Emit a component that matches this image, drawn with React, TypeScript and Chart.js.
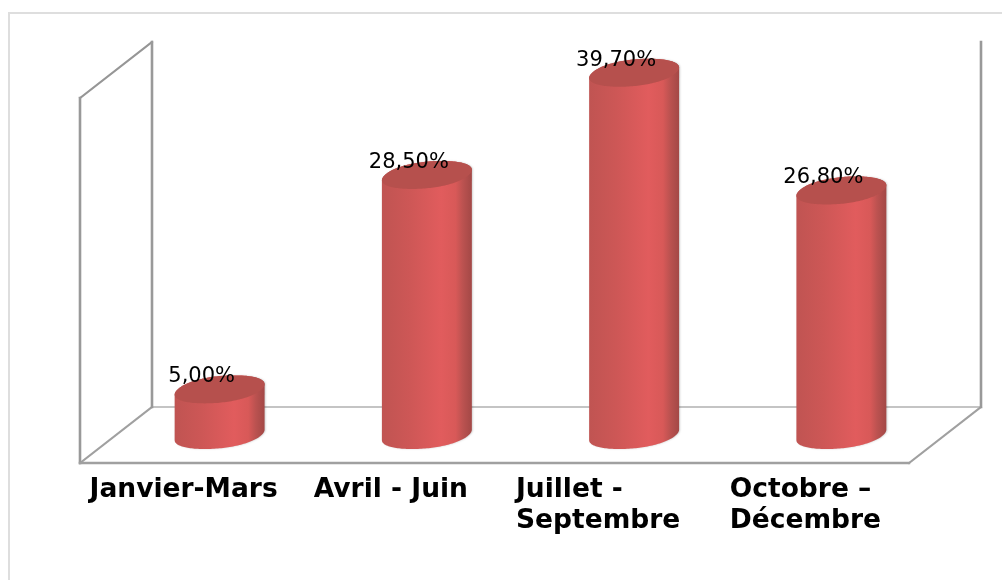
import React, { useEffect, useRef } from "react";
import { Chart, registerables } from "chart.js";

Chart.register(...registerables);

const categories: string[][] = [["Janvier-Mars"], ["Avril - Juin"], ["Juillet -", "Septembre"], ["Octobre –", "Décembre"]];
const values: number[] = [5.0, 28.5, 39.7, 26.8];
const valueLabels: string[] = ["5,00%", "28,50%", "39,70%", "26,80%"];

const DEPTH_X = 36;
const DEPTH_Y = 28;
const SHEAR = 15;
const ELLIPSE_B = 14;
const ROUNDNESS = 0.94;

function spow(v: number) {
  return Math.sign(v) * Math.pow(Math.abs(v), ROUNDNESS);
}

function rawPoint(R: number, t: number): [number, number] {
  const r = Math.sqrt(R * R - SHEAR * SHEAR);
  const c = spow(Math.cos(t));
  const s = spow(Math.sin(t));
  return [r * c + SHEAR * s, -ELLIPSE_B * s];
}

function findExtreme(R: number) {
  let best = 0;
  let bestX = -Infinity;
  for (let k = 0; k < 720; k++) {
    const t = (Math.PI * 2 * k) / 720;
    const x = rawPoint(R, t)[0];
    if (x > bestX) {
      bestX = x;
      best = t;
    }
  }
  return { t0: best, scale: R / bestX };
}

const scene3d = {
  id: "scene3d",
  beforeDatasetsDraw(chart: any) {
    const { ctx, chartArea: a } = chart;
    const line = (pts: number[][], color: string, w: number) => {
      ctx.beginPath();
      pts.forEach((p, i) => (i ? ctx.lineTo(p[0], p[1]) : ctx.moveTo(p[0], p[1])));
      ctx.strokeStyle = color;
      ctx.lineWidth = w;
      ctx.lineCap = "square";
      ctx.stroke();
    };
    ctx.save();
    line([[9, 582], [9, 13], [1004, 13]], "#dedede", 2);
    const fl = a.left - DEPTH_X, bl = a.left + DEPTH_X;
    const fr = a.right - DEPTH_X, br = a.right + DEPTH_X;
    const fb = a.bottom + DEPTH_Y, bb = a.bottom - DEPTH_Y;
    const ft = a.top + DEPTH_Y, bt = a.top - DEPTH_Y;
    line([[bl, bb], [br, bb]], "#c4c4c4", 2);
    line([[fl, fb], [bl, bb]], "#a0a0a0", 2);
    line([[fr, fb], [br, bb]], "#a0a0a0", 2);
    line([[fl, ft], [bl, bt]], "#969696", 2);
    line([[bl, bt], [bl, bb]], "#999999", 2.6);
    line([[br, bt], [br, bb]], "#999999", 2.6);
    line([[fl, ft], [fl, fb]], "#999999", 2.6);
    line([[fl, fb], [fr, fb]], "#a0a0a0", 2.4);
    ctx.restore();
  },
  afterDatasetsDraw(chart: any) {
    const { ctx } = chart;
    const meta = chart.getDatasetMeta(0);
    ctx.save();
    meta.data.forEach((bar: any, i: number) => {
      const cx = bar.x, R = bar.width / 2, top = bar.y, base = bar.base;
      const { t0, scale } = findExtreme(R);
      const pt = (cy: number, t: number): [number, number] => {
        const q = rawPoint(R, t);
        return [cx + q[0] * scale, cy + q[1]];
      };
      // body
      ctx.save();
      ctx.beginPath();
      let p = pt(top, t0);
      ctx.moveTo(p[0], p[1]);
      const N = 80;
      for (let k = 0; k <= N; k++) {
        p = pt(base, t0 - (Math.PI * k) / N);
        ctx.lineTo(p[0], p[1]);
      }
      p = pt(top, t0 - Math.PI);
      ctx.lineTo(p[0], p[1]);
      for (let k = 0; k <= N; k++) {
        p = pt(top, t0 - Math.PI - (Math.PI * k) / N);
        ctx.lineTo(p[0], p[1]);
      }
      ctx.closePath();
      const g = ctx.createLinearGradient(cx - R, 0, cx + R, 0);
      g.addColorStop(0, "#c05452");
      g.addColorStop(0.3, "#cd5756");
      g.addColorStop(0.66, "#e15c5d");
      g.addColorStop(0.82, "#d85958");
      g.addColorStop(0.9, "#bb5250");
      g.addColorStop(1, "#a34846");
      ctx.shadowColor = "rgba(0,0,0,0.18)";
      ctx.shadowBlur = 2;
      ctx.shadowOffsetX = 1;
      ctx.shadowOffsetY = 0;
      ctx.fillStyle = g;
      ctx.fill();
      ctx.restore();
      // top cap
      ctx.beginPath();
      for (let k = 0; k <= 160; k++) {
        const q = pt(top, (2 * Math.PI * k) / 160);
        if (k) ctx.lineTo(q[0], q[1]);
        else ctx.moveTo(q[0], q[1]);
      }
      ctx.closePath();
      ctx.fillStyle = "#b6504d";
      ctx.fill();
      // value label
      ctx.fillStyle = "#000";
      ctx.font = "21px 'DejaVu Sans'";
      ctx.textAlign = "center";
      ctx.textBaseline = "alphabetic";
      ctx.fillText(valueLabels[i], cx - 18, top - 7);
    });
    // category labels (left-aligned block centred under the front plane)
    const xs = chart.scales.x;
    ctx.font = "bold 26.5px 'DejaVu Sans'";
    ctx.textAlign = "left";
    ctx.fillStyle = "#000";
    categories.forEach((lines, i) => {
      const maxW = Math.max(...lines.map((l) => ctx.measureText(l).width));
      const left = xs.getPixelForValue(i) - DEPTH_X - maxW / 2;
      lines.forEach((l, j) => ctx.fillText(l, left, chart.chartArea.bottom + 62 + j * 31));
    });
    ctx.restore();
  },
};

export default function App() {
  const ref = useRef<HTMLCanvasElement>(null);
  useEffect(() => {
    const chart = new Chart(ref.current!, {
      type: "bar",
      data: {
        labels: categories,
        datasets: [
          {
            data: values,
            backgroundColor: "rgba(0,0,0,0)",
            barPercentage: 1,
            categoryPercentage: 0.434,
          },
        ],
      },
      options: {
        responsive: false,
        animation: false,
        layout: { padding: { left: 116, right: 57, top: 70, bottom: 145 } },
        plugins: { legend: { display: false }, tooltip: { enabled: false } },
        scales: {
          x: { display: false },
          y: { display: false, min: 0, max: 40 },
        },
      },
      plugins: [scene3d],
    });
    return () => chart.destroy();
  }, []);
  return (
    <canvas
      ref={ref}
      width={1002}
      height={580}
      style={{ position: "fixed", left: 0, top: 0, width: 1002, height: 580, display: "block" }}
    />
  );
}
